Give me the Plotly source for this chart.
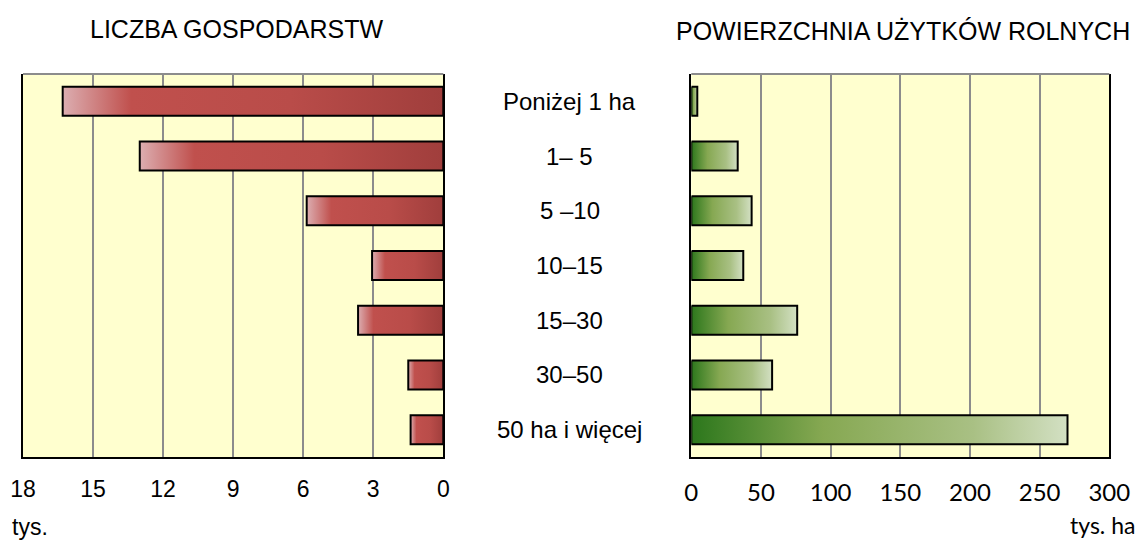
import plotly.graph_objects as go

# size classes (ha) shown between the two panels, top to bottom
categories = ["Poniżej 1 ha", "1– 5", "5 –10", "10–15", "15–30", "30–50", "50 ha i więcej"]

# number of farms, thousands
farms = [16.3, 13.0, 5.85, 3.05, 3.65, 1.5, 1.4]
# agricultural land, thousand ha
land = [4.3, 33.3, 43.3, 37.3, 76.0, 58.0, 270.0]

farm_ticks = [18, 15, 12, 9, 6, 3, 0]
land_ticks = [0, 50, 100, 150, 200, 250, 300]

BG = "#ffffcf"
GRID = "#8c8c8c"
ARIAL = "Liberation Sans, Arial"
CALIBRI = "Lato, Open Sans"
half = 0.265

# gradients run left to right on screen
red_scale = [[0, "#dcaeb1"], [0.18, "#c0504d"], [0.6, "#b94c49"], [1, "#a03e3c"]]
green_scale = [[0, "#2c771c"], [0.35, "#86a852"], [0.75, "#a9c084"], [1, "#d3e0c3"]]

fig = go.Figure()

def add_bar(v, i, xa, ya, scale):
    fig.add_trace(go.Scatter(
        x=[0, v, v, 0, 0],
        y=[i - half, i - half, i + half, i + half, i - half],
        xaxis=xa, yaxis=ya,
        mode="lines", fill="toself",
        fillgradient=dict(type="horizontal", colorscale=scale),
        line=dict(color="black", width=2),
        showlegend=False, hoverinfo="skip"))

for i, v in enumerate(farms):
    add_bar(v, i, "x", "y", red_scale)
for i, v in enumerate(land):
    add_bar(v, i, "x2", "y2", green_scale)

ydom = [1 - 457 / 541, 1 - 74 / 541]
yaxis_common = dict(range=[6.5, -0.5], domain=ydom, showticklabels=False, showgrid=False,
                    zeroline=False, showline=True, linecolor="black", linewidth=2,
                    mirror=True, ticks="", automargin=False)
xaxis_common = dict(showgrid=True, gridcolor=GRID, gridwidth=2, zeroline=False,
                    showline=True, linecolor="black", linewidth=2, ticks="",
                    automargin=False, ticklabelstandoff=10)

fig.update_layout(
    template="none",
    width=1141, height=541,
    margin=dict(l=0, r=0, t=0, b=0),
    paper_bgcolor="white", plot_bgcolor=BG,
    font=dict(family=ARIAL, color="black"),
    xaxis=dict(xaxis_common, domain=[23 / 1141, 443.3 / 1141], range=[18, 0],
               tickvals=farm_ticks, tickfont=dict(family=ARIAL, size=23)),
    yaxis=dict(yaxis_common, anchor="x"),
    xaxis2=dict(xaxis_common, domain=[691.3 / 1141, 1109.3 / 1141], range=[0, 300],
                tickvals=land_ticks, tickfont=dict(family=CALIBRI, size=24), anchor="y2",
                ticklabelstandoff=13),
    yaxis2=dict(yaxis_common, anchor="x2"),
)

# grey top edge of both plot areas
for xr, yr in (("x domain", "y domain"), ("x2 domain", "y2 domain")):
    fig.add_shape(type="line", xref=xr, yref=yr, x0=0, x1=1, y0=1, y1=1,
                  line=dict(color=GRID, width=2))

# category labels in the middle
for i, c in enumerate(categories):
    fig.add_annotation(text=c, xref="paper", yref="y", x=569.5 / 1141, y=i,
                       xanchor="center", yanchor="middle",
                       showarrow=False, font=dict(family=ARIAL, size=24))

def label(text, x, y, xanchor, font):
    fig.add_annotation(text=text, xref="paper", yref="paper", x=x / 1141, y=1 - y / 541,
                       xanchor=xanchor, yanchor="middle", showarrow=False, font=font)

label("LICZBA GOSPODARSTW", 237, 29, "center", dict(family=ARIAL, size=25))
label("POWIERZCHNIA UŻYTKÓW ROLNYCH", 903, 31, "center", dict(family=ARIAL, size=25))
label("tys.", 10, 527, "left", dict(family=ARIAL, size=23))
label("tys. ha", 1137, 525, "right", dict(family=CALIBRI, size=23))

fig.write_html("out.html", config={"displayModeBar": False},
               post_script="document.body.style.margin='0';")
